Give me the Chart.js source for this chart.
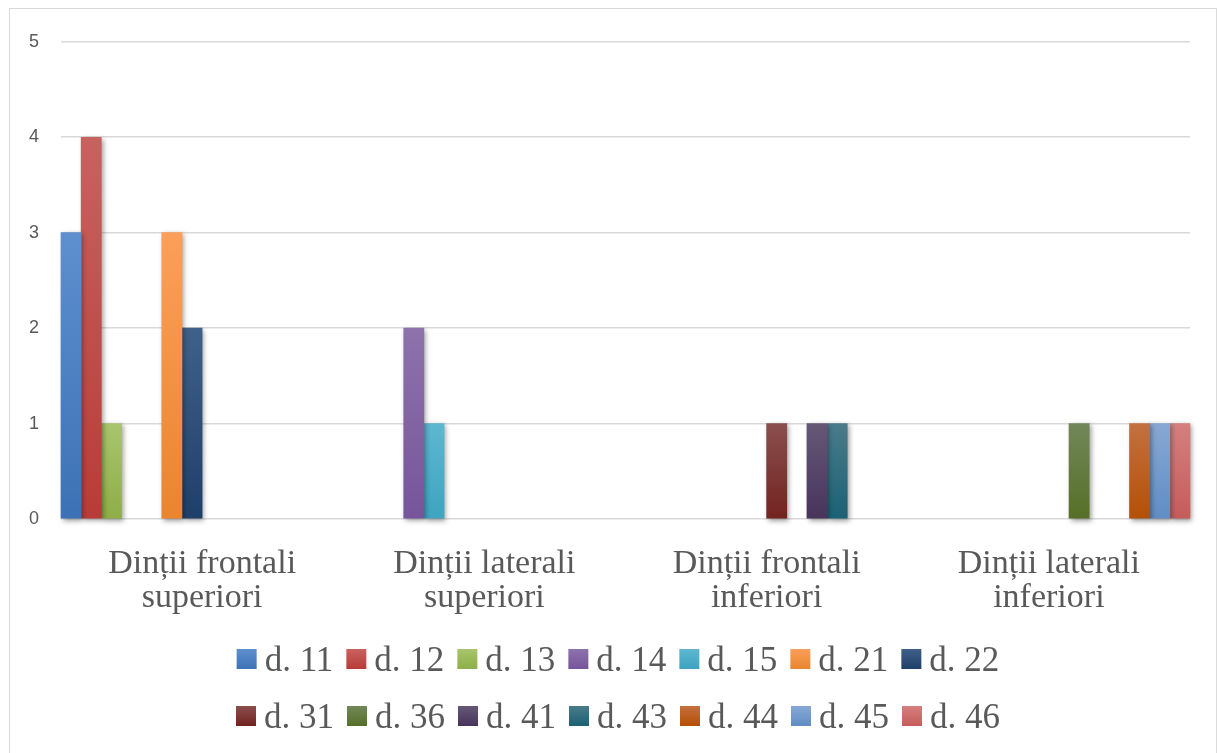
<!DOCTYPE html>
<html>
<head>
<meta charset="utf-8">
<script src="https://cdn.jsdelivr.net/npm/chart.js@4/dist/chart.umd.min.js"></script>
<style>
  html, body { margin: 0; padding: 0; background: #ffffff; }
  #frame {
    position: absolute; left: 9px; top: 8px; width: 1208px; height: 760px;
    border: 1px solid #d9d9d9; box-sizing: border-box; background: #ffffff;
  }
  #chart { position: absolute; left: 0; top: 0; }
</style>
</head>
<body>
<div id="frame"><canvas id="chart" width="1206" height="744"></canvas></div>
<script>
// Tooth groups (x categories), each label split over two lines
const categories = [
  ['Dinții frontali', 'superiori'],
  ['Dinții laterali', 'superiori'],
  ['Dinții frontali', 'inferiori'],
  ['Dinții laterali', 'inferiori']
];

// One series per tooth, counts per group
const seriesLabels = ['d. 11', 'd. 12', 'd. 13', 'd. 14', 'd. 15', 'd. 21', 'd. 22',
                      'd. 31', 'd. 36', 'd. 41', 'd. 43', 'd. 44', 'd. 45', 'd. 46'];
const d11 = [3, 0, 0, 0];
const d12 = [4, 0, 0, 0];
const d13 = [1, 0, 0, 0];
const d14 = [0, 2, 0, 0];
const d15 = [0, 1, 0, 0];
const d21 = [3, 0, 0, 0];
const d22 = [2, 0, 0, 0];
const d31 = [0, 0, 1, 0];
const d36 = [0, 0, 0, 1];
const d41 = [0, 0, 1, 0];
const d43 = [0, 0, 1, 0];
const d44 = [0, 0, 0, 1];
const d45 = [0, 0, 0, 1];
const d46 = [0, 0, 0, 1];
const seriesValues = [d11, d12, d13, d14, d15, d21, d22, d31, d36, d41, d43, d44, d45, d46];

// Y axis tick values
const yTicks = [0, 1, 2, 3, 4, 5];

// Gradient colour stops per series: [top, bottom]
const seriesColors = [
  ['#5e8fcf', '#3c72b5'],
  ['#c8625f', '#b83c38'],
  ['#a8c56d', '#8eae47'],
  ['#8d72ab', '#76559b'],
  ['#5db7d0', '#3ea4c0'],
  ['#fb9f5a', '#e9852f'],
  ['#3f6088', '#1f3f6b'],
  ['#8a4f4d', '#722320'],
  ['#72875a', '#566f26'],
  ['#665777', '#47345c'],
  ['#4a7b8a', '#1b6174'],
  ['#c4703f', '#b54f05'],
  ['#88a8d4', '#5f8dc4'],
  ['#d4807e', '#c55c5a']
];

const SERIF = '"Liberation Serif"';
const SANS = '"Liberation Sans"';

function barGradient(ctx, i) {
  const chart = ctx.chart;
  const y = chart.scales && chart.scales.y;
  const v = ctx.raw || 0;
  if (ctx.type === 'data' && v === 0) return 'rgba(0,0,0,0)';
  if (!chart.chartArea || !y || ctx.type !== 'data') return seriesColors[i][1];
  const top = y.getPixelForValue(v);
  const bottom = y.getPixelForValue(0);
  const g = chart.ctx.createLinearGradient(0, top, 0, bottom);
  g.addColorStop(0, seriesColors[i][0]);
  g.addColorStop(1, seriesColors[i][1]);
  return g;
}

const datasets = seriesLabels.map((label, i) => ({
  label: label,
  data: seriesValues[i],
  backgroundColor: (ctx) => barGradient(ctx, i),
  borderWidth: 0,
  categoryPercentage: 1.0,
  barPercentage: 1.0,
  clip: false
}));

// Soft drop shadow under the bars
const barShadow = {
  id: 'barShadow',
  beforeDatasetsDraw(chart) {
    const c = chart.ctx;
    c.save();
    c.shadowColor = 'rgba(0,0,0,0.38)';
    c.shadowBlur = 5;
    c.shadowOffsetX = 2;
    c.shadowOffsetY = 2;
  },
  afterDatasetsDraw(chart) {
    chart.ctx.restore();
  }
};

// Two-row legend below the axis
const rowLegend = {
  id: 'rowLegend',
  afterDraw(chart) {
    const c = chart.ctx;
    const area = chart.chartArea;
    const rows = [[0, 7], [7, 14]];
    const rowCenters = [area.bottom + 140, area.bottom + 197];
    const box = 20, gap = 8, spacing = 13;
    c.save();
    c.font = '35px ' + SERIF;
    c.textBaseline = 'alphabetic';
    c.textAlign = 'left';
    rows.forEach(([from, to], r) => {
      const items = chart.data.datasets.slice(from, to);
      const widths = items.map(ds => box + gap + c.measureText(ds.label).width);
      const total = widths.reduce((a, b) => a + b, 0) + spacing * (items.length - 1);
      let x = chart.width / 2 + 5 - total / 2;
      const cy = rowCenters[r];
      items.forEach((ds, k) => {
        const idx = from + k;
        const g = c.createLinearGradient(0, cy - box / 2, 0, cy + box / 2);
        g.addColorStop(0, seriesColors[idx][0]);
        g.addColorStop(1, seriesColors[idx][1]);
        c.fillStyle = g;
        c.fillRect(x, cy - box / 2, box, box);
        c.fillStyle = '#595959';
        c.fillText(ds.label, x + box + gap, cy + 12);
        x += widths[k] + spacing;
      });
    });
    c.restore();
  }
};

new Chart(document.getElementById('chart'), {
  type: 'bar',
  data: { labels: categories, datasets: datasets },
  options: {
    responsive: false,
    animation: false,
    layout: { padding: { left: 0, right: 26, top: 17.2, bottom: 134 } },
    plugins: {
      legend: { display: false },
      tooltip: { enabled: false }
    },
    scales: {
      x: {
        grid: { display: false },
        border: { display: false },
        ticks: {
          color: '#595959',
          font: { family: SERIF, size: 34, lineHeight: 1.0 },
          padding: 20,
          maxRotation: 0,
          autoSkip: false
        },
        afterFit(scale) { scale.height = 100; }
      },
      y: {
        min: yTicks[0],
        max: yTicks[yTicks.length - 1],
        afterBuildTicks(scale) { scale.ticks = yTicks.map(v => ({ value: v })); },
        grid: { color: '#d9d9d9', lineWidth: 1.5, drawTicks: false },
        border: { display: false },
        ticks: {
          color: '#595959',
          font: { family: SANS, size: 18 },
          padding: 22
        },
        afterFit(scale) { scale.width = 51; }
      }
    }
  },
  plugins: [barShadow, rowLegend]
});
</script>
</body>
</html>
